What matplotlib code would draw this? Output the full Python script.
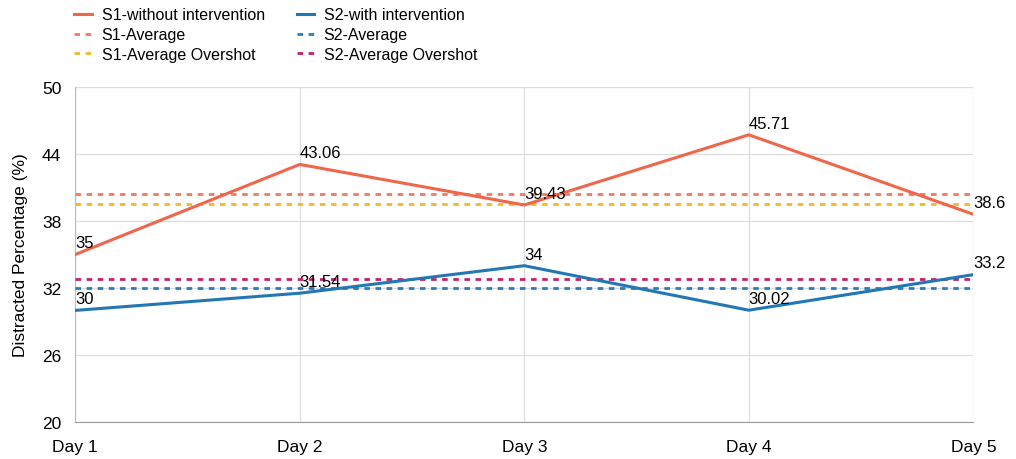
import numpy as np
import matplotlib
matplotlib.use('Agg')
import matplotlib.pyplot as plt

plt.rcParams['font.family'] = ['Liberation Sans', 'DejaVu Sans']

days = ["Day 1", "Day 2", "Day 3", "Day 4", "Day 5"]
s1_values = [35, 43.06, 39.43, 45.71, 38.6]
s2_values = [30, 31.54, 34, 30.02, 33.2]
s1_average = 40.4
s1_overshot = 39.5
s2_average = 32.0
s2_overshot = 32.8
y_ticks = [20, 26, 32, 38, 44, 50]

c_s1 = '#F0664A'
c_s1_avg = '#F07A63'
c_s1_over = '#F2B92B'
c_s2 = '#2277B5'
c_s2_avg = '#2A7DB8'
c_s2_over = '#C8206A'

fig = plt.figure(figsize=(10.16, 4.6), dpi=100)
ax = fig.add_axes([0.074, 0.080, 0.884, 0.729])

x = np.arange(len(days))
ax.plot(x, s1_values, color=c_s1, lw=2.2, label='S1-without intervention', zorder=4)
ax.axhline(s1_average, color=c_s1_avg, lw=2, ls=(0, (2, 2)), label='S1-Average', zorder=3)
ax.axhline(s1_overshot, color=c_s1_over, lw=2, ls=(0, (2, 2)), label='S1-Average Overshot', zorder=3)
ax.plot(x, s2_values, color=c_s2, lw=2.2, label='S2-with intervention', zorder=4)
ax.axhline(s2_average, color=c_s2_avg, lw=2, ls=(0, (2, 2)), label='S2-Average', zorder=3)
ax.axhline(s2_overshot, color=c_s2_over, lw=2, ls=(0, (2, 2)), label='S2-Average Overshot', zorder=3)

for xi, v in zip(x, s1_values):
    ax.annotate(f"{v:g}", (xi, v), xytext=(0, 3), textcoords='offset points',
                ha='left', va='bottom', fontsize=12, zorder=5)
for xi, v in zip(x, s2_values):
    ax.annotate(f"{v:g}", (xi, v), xytext=(0, 3), textcoords='offset points',
                ha='left', va='bottom', fontsize=12, zorder=5)

ax.set_xlim(0, len(days) - 1)
ax.set_ylim(20, 50)
ax.set_yticks(y_ticks)
ax.set_xticks(x)
ax.set_xticklabels(days)
ax.tick_params(length=0, labelsize=12.5)
ax.tick_params(axis='y', pad=10)
ax.tick_params(axis='x', pad=12)
ax.set_ylabel('Distracted Percentage (%)', fontsize=12.5, labelpad=10)
ax.grid(True, color='#DDDDDD', lw=0.9)
ax.set_axisbelow(True)
for side in ['top', 'right']:
    ax.spines[side].set_visible(False)
ax.spines['bottom'].set_color('#999999')
ax.spines['left'].set_color('#BBBBBB')

ax.legend(loc='lower left', bbox_to_anchor=(-0.008, 1.055), ncol=2, frameon=False,
          fontsize=11.5, handlelength=1.1, handletextpad=0.6, labelspacing=0.3,
          columnspacing=2.0, borderaxespad=0)

fig.savefig('out.png', dpi=100)
